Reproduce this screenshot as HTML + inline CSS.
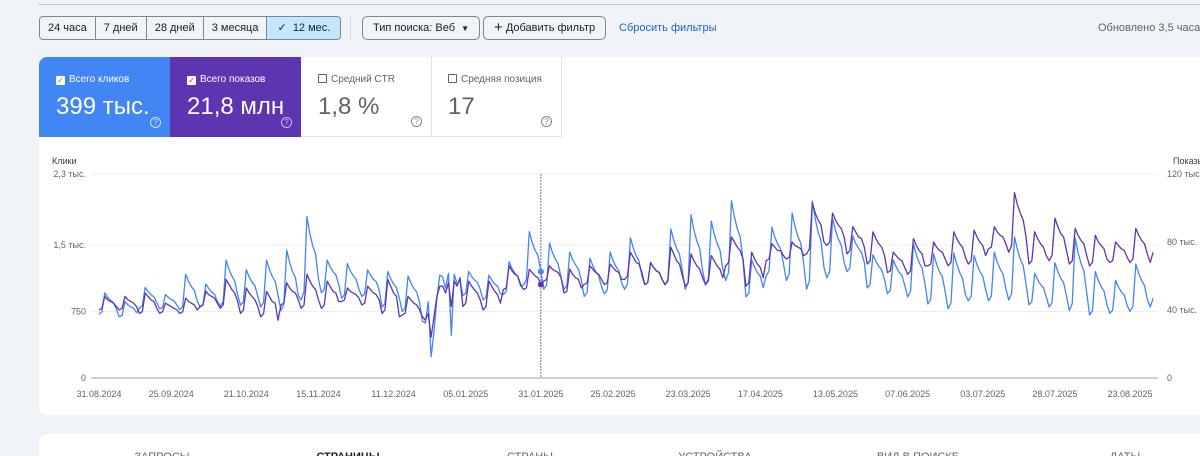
<!DOCTYPE html>
<html><head><meta charset="utf-8">
<style>
*{box-sizing:border-box;margin:0;padding:0}
html,body{width:1200px;height:456px;overflow:hidden}
body{background:#f0f3f8;font-family:"Liberation Sans",sans-serif;position:relative;color:#3c4043}
.rule{position:absolute;left:38px;top:4px;width:1162px;height:1px;background:#c8cacd}
.seg{position:absolute;top:16px;left:39px;height:24px;display:flex;border:1px solid #80868b;border-radius:4px;overflow:hidden}
.seg div{font-size:11px;line-height:22px;padding:0 8px;border-right:1px solid #80868b;color:#202124}
.seg div:last-child{border-right:none;background:#c2e7ff;padding:0 10px}
.vsep{position:absolute;left:350px;top:16px;width:1px;height:24px;background:#dadce0}
.btn{position:absolute;top:16px;height:24px;border:1px solid #80868b;border-radius:5px;font-size:11px;line-height:22px;color:#202124;padding:0 10px}
.link{position:absolute;top:22px;left:619px;font-size:11px;color:#1a5fd0}
.upd{position:absolute;top:22px;left:1098px;font-size:11px;color:#5f6368;white-space:nowrap}
.panel{position:absolute;left:39px;top:57px;width:1180px;height:358px;background:#fff;border-radius:8px}
.card{position:absolute;top:57px;height:80px;width:131px}
.card .t{position:absolute;left:17px;top:17px;font-size:10px;white-space:nowrap}
.card .cb{display:inline-block;width:9px;height:9px;border:1px solid;border-radius:1px;margin-right:4px;vertical-align:-1px;position:relative}
.card .v{position:absolute;left:17px;top:36px;font-size:24px;white-space:nowrap}
.card .q{position:absolute;right:9px;bottom:9px;width:11px;height:11px;border:1px solid;border-radius:50%;font-size:8px;line-height:9px;text-align:center}
.panel2{position:absolute;left:39px;top:434px;width:1180px;height:40px;background:#fff;border-radius:8px}
.tab{position:absolute;top:451px;font-size:11px;color:#5f6368;transform:translateX(-50%);white-space:nowrap}
svg{position:absolute;left:0;top:0}
</style></head><body>
<div class="rule"></div>
<div class="seg">
<div>24 часа</div>
<div>7 дней</div>
<div>28 дней</div>
<div>3 месяца</div>
<div>✓&nbsp; 12 мес.</div>
</div>
<div class="vsep"></div>
<div class="btn" style="left:362px">Тип поиска: Веб &nbsp;<span style="font-size:8px">▼</span></div>
<div class="btn" style="left:483px"><span style="font-size:15px;vertical-align:-1px">+</span> Добавить фильтр</div>
<div class="link">Сбросить фильтры</div>
<div class="upd">Обновлено 3,5 часа</div>
<div class="panel"></div>
<div class="card" style="left:39px;background:#4285f4;color:#fff;border-top-left-radius:8px">
<div class="t"><span class="cb" style="border-color:#fff;background:#fff;color:#4285f4;font-size:8px;line-height:7px;text-align:center">✓</span>Всего кликов</div>
<div class="v">399 тыс.</div><div class="q" style="border-color:#cfe0fc;color:#cfe0fc">?</div></div>
<div class="card" style="left:170px;background:#5e35b1;color:#fff">
<div class="t"><span class="cb" style="border-color:#fff;background:#fff;color:#5e35b1;font-size:8px;line-height:7px;text-align:center">✓</span>Всего показов</div>
<div class="v">21,8 млн</div><div class="q" style="border-color:#c9b9e6;color:#c9b9e6">?</div></div>
<div class="card" style="left:301px;color:#5f6368;border-right:1px solid #e3e3e3;border-bottom:1px solid #e3e3e3">
<div class="t"><span class="cb" style="border-color:#5f6368"></span>Средний CTR</div>
<div class="v">1,8 %</div><div class="q" style="border-color:#80868b;color:#80868b">?</div></div>
<div class="card" style="left:431px;color:#5f6368;border-right:1px solid #e3e3e3;border-bottom:1px solid #e3e3e3">
<div class="t"><span class="cb" style="border-color:#5f6368"></span>Средняя позиция</div>
<div class="v">17</div><div class="q" style="border-color:#80868b;color:#80868b">?</div></div>
<div class="panel2"></div>
<div class="tab" style="left:162px">ЗАПРОСЫ</div>
<div class="tab" style="left:348px;color:#202124;font-weight:bold">СТРАНИЦЫ</div>
<div class="tab" style="left:530px">СТРАНЫ</div>
<div class="tab" style="left:715px">УСТРОЙСТВА</div>
<div class="tab" style="left:918px">ВИД В ПОИСКЕ</div>
<div class="tab" style="left:1125px">ДАТЫ</div>
<svg id="chart" width="1200" height="456"></svg>
<script>
const clicks=[
720,745,960,910,875,850,780, 690,705,860,825,800,785,735, 790,815,1020,975,940,915,850, 780,795,940,910,885,870,820,
770,810,1170,1090,1030,990,870, 800,825,1060,1010,970,945,865, 810,860,1330,1225,1150,1095,940, 820,860,1220,1140,1080,1040,920,
800,855,1330,1225,1145,1090,935, 760,830,1440,1305,1200,1135,930, 880,975,1820,1630,1490,1395,1115, 960,1000,1330,1255,1200,1165,1055,
900,940,1290,1210,1155,1115,1000, 920,950,1220,1160,1115,1085,995, 800,840,1200,1120,1060,1020,900, 750,790,1150,1070,1010,970,850,
640,620,860,240,520,900,1160, 1140,1010,1180,480,1170,1060,1100, 930,955,1200,1145,1105,1080,1000, 880,910,1160,1105,1060,1035,950,
940,975,1310,1235,1180,1145,1035, 1050,1110,1650,1530,1440,1380,1200, 1000,1050,1520,1415,1340,1285,1130, 1000,1040,1420,1335,1275,1230,1105,
920,965,1350,1265,1200,1155,1030, 950,995,1420,1325,1255,1210,1070, 1000,1060,1580,1465,1375,1320,1145, 1050,1075,1300,1250,1210,1190,1110,
1050,1115,1680,1555,1460,1395,1210, 1000,1085,1840,1670,1545,1460,1210, 1050,1120,1770,1625,1520,1445,1230, 1100,1190,2000,1820,1685,1595,1325,
915,955,1330,1250,1185,1145,1020, 1150,1205,1700,1590,1510,1455,1290, 1100,1175,1860,1710,1595,1520,1290, 1000,1100,1995,1795,1645,1545,1250,
1130,1195,1800,1665,1565,1500,1300, 1200,1240,1600,1520,1460,1420,1300, 1015,1055,1390,1315,1260,1220,1110, 950,990,1330,1255,1195,1160,1045,
915,975,1510,1390,1300,1240,1065, 835,890,1400,1285,1200,1145,975, 780,845,1410,1285,1190,1125,940, 870,920,1380,1280,1200,1150,1000,
870,925,1420,1310,1230,1175,1010, 880,950,1590,1450,1340,1270,1060, 825,860,1180,1110,1055,1020,915, 800,850,1300,1200,1125,1075,925,
760,840,1580,1415,1295,1210,965, 710,760,1200,1100,1030,980,830, 730,765,1100,1025,970,935,820, 750,805,1285,1180,1100,1045,885,
800,900];
const impressions=[
40,41,48,46,45,44,42, 40,41,48,46,45,44,42, 38,39,50,48,46,45,41, 38,39,44,43,42,41,40,
38,39,47,45,44,43,40, 42,43,51,49,48,47,44, 41,43,58,55,52,50,45, 38,40,53,50,48,46,42,
36,38,51,48,45,44,34, 43,44,56,53,51,50,46, 41,43,61,57,54,52,46, 41,43,57,54,51,50,45,
45,46,53,51,50,49,47, 43,44,54,52,50,49,46, 38,40,58,54,50,48,36, 37,38,48,46,44,43,40,
36,34,38,24,36,48,54, 54,50,56,42,57,54,59, 42,44,57,54,52,50,46, 40,42,57,54,51,49,44,
52,53,66,63,61,60,55, 52,53,64,62,60,59,55, 57,58,66,64,63,62,59, 50,51,64,61,59,58,53,
55,56,66,64,62,61,58, 55,56,67,65,63,62,58, 58,60,74,71,68,67,62, 55,56,68,65,63,62,58,
55,57,77,73,69,67,60, 54,56,73,69,66,64,59, 55,57,72,69,66,64,59, 66,68,83,80,77,75,70,
54,56,74,70,67,65,59, 69,70,79,77,75,75,72, 70,71,80,78,77,76,72, 73,76,103,97,93,90,80,
78,80,97,93,90,88,83, 73,75,89,86,83,82,77, 67,69,86,82,79,77,72, 62,63,74,72,70,69,65,
61,63,82,78,75,73,66, 66,67,80,77,75,74,70, 66,68,86,82,79,77,71, 67,69,87,83,80,78,72,
76,77,89,86,84,83,79, 74,78,109,102,97,93,83, 67,69,86,82,79,77,72, 69,72,94,89,85,83,75,
67,69,88,84,81,79,72, 66,68,84,80,78,76,70, 68,69,80,78,76,75,71, 68,70,88,84,81,79,73,
68,74];
const leftTicks=[0,750,1500,2300];
const leftTickLabels=["0","750","1,5 тыс.","2,3 тыс."];
const rightTicks=[0,40,80,120];
const rightTickLabels=["0","40 тыс.","80 тыс.","120 тыс."];
const xTickDays=[0,25,51,76,102,127,153,178,204,229,255,280,306,331,357];
const xTickLabels=["31.08.2024","25.09.2024","21.10.2024","15.11.2024","11.12.2024","05.01.2025","31.01.2025","25.02.2025","23.03.2025","17.04.2025","13.05.2025","07.06.2025","03.07.2025","28.07.2025","23.08.2025"];
const cursorDay=153;

const NS="http://www.w3.org/2000/svg";
const svg=document.getElementById('chart');
const X0=99,DX=2.888,Y0=378,H=204;
const x=d=>X0+DX*d;
const yL=v=>Y0-v/2300*H;
const yR=v=>Y0-v/120*H;
function mk(t,a){const e=document.createElementNS(NS,t);for(const k in a)e.setAttribute(k,a[k]);svg.appendChild(e);return e;}
function txt(s,a){const e=mk('text',a);e.textContent=s;return e;}
leftTicks.forEach((v,i)=>{
  const g=mk('line',{x1:91,x2:1158,y1:yL(v),y2:yL(v),stroke:i==0?'#bdc1c6':'#eceff1','stroke-width':i==0?1.5:1});
  
  
  const t=txt(leftTickLabels[i],{x:86,y:yL(v)+3,'font-size':9,fill:'#5f6368','text-anchor':'end'});
  
  
});
rightTicks.forEach((v,i)=>{
  const t=txt(rightTickLabels[i],{x:1167,y:yR(v)+3,'font-size':9,fill:'#5f6368'});
  
  
});
xTickDays.forEach((d,i)=>{
  const t=txt(xTickLabels[i],{x:x(d),y:397,'font-size':9,fill:'#5f6368','text-anchor':'middle'});
  
  
});
const lt=txt('Клики',{x:52,y:164,'font-size':9,fill:'#3c4043'});


const rt=txt('Показы',{x:1173,y:164,'font-size':9,fill:'#3c4043'});


const cur=mk('line',{x1:x(cursorDay),x2:x(cursorDay),y1:174,y2:Y0,stroke:'#777','stroke-width':1,'stroke-dasharray':'2,1'});


const pc=mk('polyline',{points:clicks.map((v,i)=>x(i)+','+yL(v)).join(' '),fill:'none',stroke:'#4285f4','stroke-width':1.3,'stroke-linejoin':'round'});


const pi=mk('polyline',{points:impressions.map((v,i)=>x(i)+','+yR(v)).join(' '),fill:'none',stroke:'#5e35b1','stroke-width':1.3,'stroke-linejoin':'round'});


const d1=mk('circle',{cx:x(cursorDay),cy:yL(clicks[cursorDay]),r:3,fill:'#4285f4'});


const d2=mk('circle',{cx:x(cursorDay),cy:yR(impressions[cursorDay]),r:3,fill:'#5e35b1'});


</script>
</body></html>
